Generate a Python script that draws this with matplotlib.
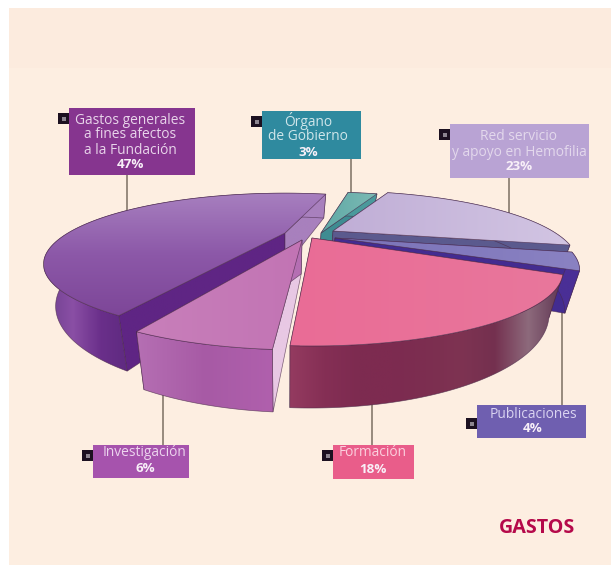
import numpy as np
import matplotlib
matplotlib.use('Agg')
import matplotlib.pyplot as plt
from matplotlib.colors import LinearSegmentedColormap
from matplotlib.patches import Polygon, Rectangle

# data, clockwise from the back of the pie
labels = [['Órgano', 'de Gobierno'],
          ['Red servicio', 'y apoyo en Hemofilia'],
          ['Publicaciones'],
          ['Formación'],
          ['Investigación'],
          ['Gastos generales', 'a fines afectos', 'a la Fundación']]
values = [3, 23, 4, 18, 6, 47]

# pie look
start_angle = 80
R, B, K, H0 = 226, 59.7, 0.457, 34
XC = 285
apex = [(321, 233), (333, 231), (335, 238), (312, 238), (302, 240), (285, 233)]
nudge = [0, 0, 0, -2, -3, -5.5]
rscale = [1, 0.97, 0.97, 0.99, 1, 0.96]
order = [5, 0, 1, 2, 4, 3]
top_cols = [['#5fa9a6', '#7cbab4'], ['#c0aed6', '#d2c5e3'], ['#7a72b8', '#8a82c2'],
            ['#ea6c96', '#e8779c'], ['#c87fba', '#c274b4'], ['#a77fbf', '#8c58a8', '#7d4698']]
top_horizontal = [True, True, True, True, True, False]
wall_cols = [['#4a9a9c', '#4a9a9c'], ['#5b5a8e', '#5b5a8e'], ['#4a2f96', '#4a2f96'],
             ['#943b60', '#852f55', '#7d2b50', '#7d2b50', '#7c2e50', '#7e3352', '#74304f', '#8d6a7c', '#5f3552'],
             ['#b56fb3', '#a75aa5', '#b060ad'],
             ['#6d3f8e', '#8a4fa5', '#6a2f8a', '#5e2a80', '#5e2a80', '#5e2a80', '#5e2a80',
              '#5e2a80', '#5e2a80', '#a880bd', '#a880bd']]
cut_cols = [('#3f8c92', '#3f8c92'), ('#5b5a8e', '#5b5a8e'), ('#432c90', '#432c90'),
            ('#7d2b50', '#7d2b50'), ('#e8c8e4', '#b56fb3'), ('#5f2584', '#a880bd')]
box_cols = ['#2f8a9f', '#b9a3d4', '#6f5fb0', '#e95d8a', '#a653ad', '#86358f']
text_cols = ['#cfe6ea', '#e3d8ec', '#d9d3f0', '#fbd0de', '#ecd4ee', '#e8d4ea']
boxes = [(262, 111, 99, 48), (450, 124, 139, 54), (477, 405, 109, 33),
         (333, 445, 81, 34), (93, 445, 96, 33), (69, 108, 126, 67)]
text_pos = [(308, 121), (519, 137), (533, 414), (373, 453), (145, 453), (130, 120)]
line_step = [15.5, 15, 15, 16.5, 15.5, 15]
leaders = [(351, 159, 192), (509, 178, 214), (562, 312, 405),
           (372, 400, 445), (163, 385, 445), (127, 175, 212)]

plt.rcParams['font.family'] = ['Open Sans', 'DejaVu Sans']
fig = plt.figure(figsize=(6.11, 5.65), dpi=100, facecolor='white')
ax = fig.add_axes([0, 0, 1, 1])
ax.axis('off')


def grad_fill(poly, cols, z, horizontal=True):
    poly = np.asarray(poly)
    x0, y0 = poly.min(axis=0)
    x1, y1 = poly.max(axis=0)
    ramp = np.linspace(0, 1, 256)
    ramp = ramp.reshape(1, -1) if horizontal else ramp.reshape(-1, 1)
    cmap = LinearSegmentedColormap.from_list('g', cols)
    img = ax.imshow(ramp, cmap=cmap, extent=[x0, x1, y1, y0], aspect='auto', zorder=z)
    img.set_clip_path(Polygon(poly, transform=ax.transData))
    ax.add_patch(Polygon(poly, fc='none', ec='#4a2a4a', lw=0.5, alpha=0.7, zorder=z + 0.1))


def rim(angles, i):
    t = np.radians(angles)
    u, v = np.cos(t) * rscale[i], np.sin(t) * rscale[i]
    s = 1 / (1 + K * v)
    return np.column_stack([apex[i][0] + R * u * s, apex[i][1] - B * v * s]), s


def lower(pts, s):
    pts = np.atleast_2d(pts)
    return np.column_stack([XC + (pts[:, 0] - XC) * 0.95, pts[:, 1] + H0 * s])


# panel, the top band is a touch darker
ax.add_patch(Rectangle((9, 8), 602, 557, fc='#fdeee1', ec='none', zorder=1))
ax.add_patch(Rectangle((9, 8), 602, 60, fc='#fcebde', ec='none', zorder=1.1))

# slice angles come from the values
step = 360 / sum(values)
ends = start_angle - np.cumsum(values) * step
starts = ends + np.array(values) * step

z = 2
for i in order:
    th = np.linspace(starts[i] + nudge[i], ends[i] + nudge[i], 120)
    arc, s = rim(th, i)
    bot = lower(arc, s)
    a_top = np.array([apex[i]], dtype=float)
    a_bot = lower(a_top, np.array([1.0]))
    # cut faces, then outer wall, then top
    grad_fill(np.vstack([a_top, arc[:1], bot[:1], a_bot]), [cut_cols[i][0]] * 2, z)
    grad_fill(np.vstack([a_top, arc[-1:], bot[-1:], a_bot]), [cut_cols[i][1]] * 2, z + 1)
    grad_fill(np.vstack([arc, bot[::-1]]), wall_cols[i], z + 2)
    grad_fill(np.vstack([a_top, arc]), top_cols[i], z + 3, top_horizontal[i])
    z += 5

# leader lines, boxes and labels
for i in range(len(values)):
    x, y0, y1 = leaders[i]
    ax.plot([x, x], [y0, y1], color='#85796c', lw=1.2, zorder=1.5)
    bx, by, bw, bh = boxes[i]
    ax.add_patch(Rectangle((bx, by), bw, bh, fc=box_cols[i], ec='none', zorder=60))
    my = by + 5 if i != 2 else by + 13
    ax.add_patch(Rectangle((bx - 11, my), 11, 11, fc='#1c1020', ec='none', zorder=60))
    ax.add_patch(Rectangle((bx - 7.5, my + 3.5), 4, 4, fc='#8d8590', ec='none', zorder=61))
    tx, ty = text_pos[i]
    for j, line in enumerate(labels[i]):
        ax.text(tx, ty + j * line_step[i], line, color=text_cols[i], fontsize=9.9,
                ha='center', va='center', zorder=62)
    ax.text(tx, ty + len(labels[i]) * line_step[i], f'{values[i]}%', color='#f8f0f8',
            fontsize=9.6, fontweight='bold', ha='center', va='center', zorder=62)

ax.text(575, 528, 'GASTOS', color='#b5094a', fontsize=14.2, fontweight='bold',
        ha='right', va='center', zorder=62)

ax.set_xlim(0, 611)
ax.set_ylim(565, 0)
fig.savefig('out.png', dpi=100, facecolor='white')
